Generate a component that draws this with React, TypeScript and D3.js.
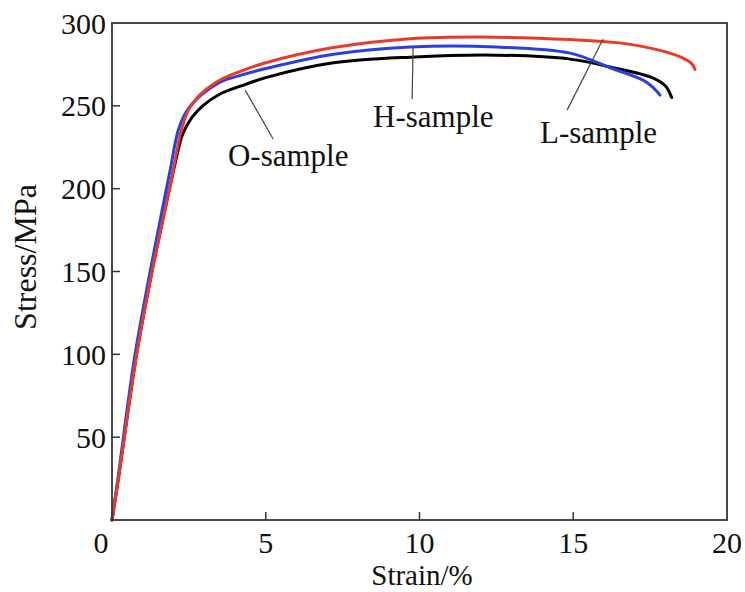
import * as d3 from 'd3'

// strain (%) / stress (MPa) points
const redStrain = [0, 0.2, 0.4, 0.8, 1.3, 1.72, 2.0, 2.25, 2.5, 2.8, 3.1, 3.6, 4.2, 5, 7.15, 9.7, 12, 14.9, 16.5, 17.8, 18.57, 18.85, 18.96]
const redStress = [0, 24, 50, 100, 150, 187, 212, 235, 248, 255.5, 260.5, 266.5, 271, 276, 285, 290.5, 291.5, 290, 288, 283.6, 278.8, 275.5, 272]

const blueStrain = [0, 0.2, 0.37, 0.75, 1.24, 1.63, 1.9, 2.15, 2.4, 2.7, 3.0, 3.6, 4.2, 5, 7.15, 9.7, 12.5, 14.9, 16.2, 17.27, 17.6, 17.82]
const blueStress = [0, 26, 50, 100, 150, 187, 212, 235, 246, 253, 258, 265, 268.5, 272.5, 281, 285.5, 285.5, 281.8, 273, 265.5, 261, 256.5]

const blackStrain = [0, 0.2, 0.4, 0.8, 1.3, 1.72, 2.05, 2.3, 2.6, 2.95, 3.5, 4.2, 5, 7.15, 9.7, 12.5, 14.9, 16.2, 17.6, 18.0, 18.2]
const blackStress = [0, 24, 50, 100, 150, 187, 215, 233, 243, 250, 257, 262, 267, 275.8, 279.4, 280.6, 278.2, 273.4, 266.8, 262, 255]

const xTicks = [5, 10, 15, 20]
const yTicks = [50, 100, 150, 200, 250, 300]

// annotations: leader start, leader end and text position, in data units
const notes = [
  { label: 'O-sample', from: [4.33, 259.5], to: [5.24, 230], at: [3.77, 213.6] },
  { label: 'H-sample', from: [9.79, 285], to: [9.76, 254], at: [8.49, 237] },
  { label: 'L-sample', from: [15.97, 290.3], to: [14.8, 247.4], at: [13.92, 227.5] },
]

const series = [
  { xs: blackStrain, ys: blackStress, color: '#000000' },
  { xs: blueStrain, ys: blueStress, color: '#2b3ee6' },
  { xs: redStrain, ys: redStress, color: '#ea3b2a' },
]

const App = () => {
  const width = 745
  const height = 592
  const left = 112, right = 727, top = 23, bottom = 520

  const x = d3.scaleLinear().domain([0, 20]).range([left, right])
  const y = d3.scaleLinear().domain([0, 300]).range([bottom, top])

  const line = d3
    .line<[number, number]>()
    .x((d) => x(d[0]))
    .y((d) => y(d[1]))
    .curve(d3.curveCatmullRom.alpha(0.5))

  const font = '"Liberation Serif", "Times New Roman", serif'
  const fs = 30

  return (
    <svg width={width} height={height} style={{ position: 'absolute', left: 0, top: 0 }} fontFamily={font}>
      <rect x={0} y={0} width={width} height={height} fill='white' />

      {series.map((s, i) => (
        <path
          key={i}
          d={line(s.xs.map((v, j) => [v, s.ys[j]]) as [number, number][]) || ''}
          fill='none'
          stroke={s.color}
          strokeWidth={3}
          strokeLinecap='round'
        />
      ))}

      {/* frame */}
      <rect x={left} y={top} width={right - left} height={bottom - top} fill='none' stroke='#333' strokeWidth={1.8} />

      {xTicks.map((t) => (
        <g key={'x' + t}>
          {t < 20 && <line x1={x(t)} x2={x(t)} y1={bottom} y2={bottom - 8} stroke='#333' strokeWidth={1.5} />}
          <text x={x(t)} y={553} textAnchor='middle' fontSize={fs} fill='#111'>{t}</text>
        </g>
      ))}
      <text x={101} y={553} textAnchor='middle' fontSize={fs} fill='#111'>0</text>

      {yTicks.map((t) => (
        <g key={'y' + t}>
          {t < 300 && <line x1={left} x2={left + 8} y1={y(t)} y2={y(t)} stroke='#333' strokeWidth={1.5} />}
          <text x={106} y={y(t)} dy='0.35em' textAnchor='end' fontSize={fs} fill='#111'>{t}</text>
        </g>
      ))}

      <text x={422} y={585} textAnchor='middle' fontSize={29} fill='#111'>Strain/%</text>
      <text transform={`translate(36,257) rotate(-90)`} textAnchor='middle' fontSize={32} fill='#111'>Stress/MPa</text>

      {notes.map((n) => (
        <g key={n.label}>
          <line x1={x(n.from[0])} y1={y(n.from[1])} x2={x(n.to[0])} y2={y(n.to[1])} stroke='#444' strokeWidth={1.2} />
          <text x={x(n.at[0])} y={y(n.at[1])} fontSize={31} fill='#111'>{n.label}</text>
        </g>
      ))}
    </svg>
  )
}

export default App
